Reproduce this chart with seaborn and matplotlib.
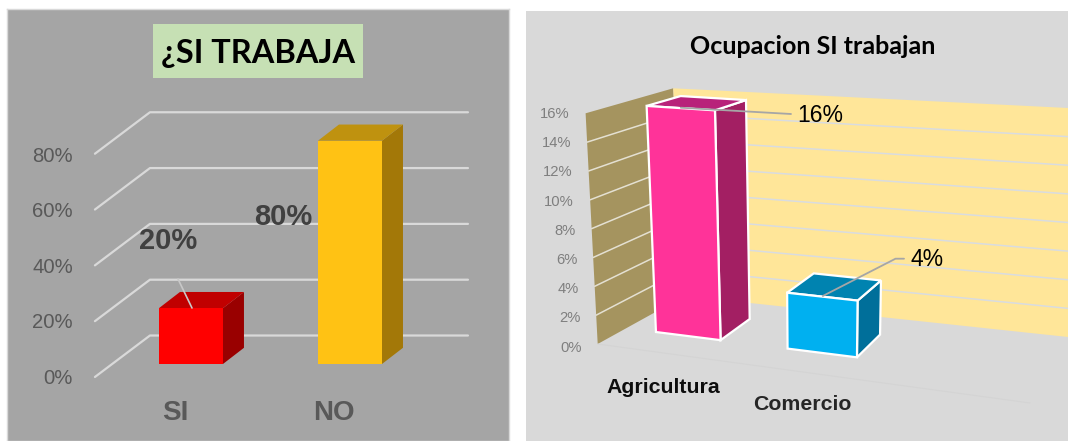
import numpy as np
import pandas as pd
import matplotlib
matplotlib.use('Agg')
import matplotlib.pyplot as plt
import seaborn as sns
from matplotlib.patches import Polygon, Rectangle
from matplotlib.transforms import Affine2D, Transform

# left chart data
work_cats = ['SI', 'NO']
work_vals = [20, 80]
work_ticks = [0, 20, 40, 60, 80]

# right chart data
job_cats = ['Agricultura', 'Comercio']
job_vals = [16, 4]
job_ticks = [0, 2, 4, 6, 8, 10, 12, 14, 16]

W, H = 1068, 441

sns.set_theme(style='white')
plt.rcParams['font.family'] = ['Liberation Sans', 'DejaVu Sans']

fig = plt.figure(figsize=(W / 100, H / 100), dpi=100, facecolor='white')
# pixel coordinates of the picture, y going down
px = Affine2D().scale(1, -1).translate(0, H)


def panel(left, top, right, bottom, color):
    ax = fig.add_axes([left / W, 1 - bottom / H, (right - left) / W, (bottom - top) / H])
    ax.set_facecolor(color)
    return ax


def clean(ax):
    ax.set(xticks=[], yticks=[], xlabel='', ylabel='')


# ---------- left chart ----------
ax1 = panel(7, 9, 509, 441, '#a5a5a5')
df1 = pd.DataFrame({'cat': work_cats, 'val': work_vals})
sns.barplot(data=df1, x='cat', y='val', hue='cat', palette=['#ff0000', '#ffc214'],
            width=0.4025, legend=False, saturation=1, ax=ax1)
ax1.set_xlim(-1.157, 2.0)
ax1.set_ylim(-27.6, 127.2)
clean(ax1)
for s in ax1.spines.values():
    s.set_color('#d9d9d9')
    s.set_linewidth(1)

# faux 3D floor/wall lines
for v in work_ticks:
    ax1.plot([-0.604, -0.258, 1.742], [v - 4.66, v + 10.2, v + 10.2],
             color='#d9d9d9', lw=1.6, zorder=1)
    ax1.text(73, 378.5 - v * 2.78, f'{v}%', transform=px, ha='right', va='center',
             fontsize=14.6, color='#595959')

# side and top faces from the bars
dx, dy = 0.132, 5.8
tops = ['#c00000', '#bf920f']
sides = ['#990000', '#a37808']
for bar, top_c, side_c in zip(ax1.patches, tops, sides):
    x0, x1, h = bar.get_x(), bar.get_x() + bar.get_width(), bar.get_height()
    bar.set_zorder(3)
    bar.set_edgecolor('none')
    ax1.add_patch(Polygon([(x1, 0), (x1 + dx, dy), (x1 + dx, h + dy), (x1, h)],
                          facecolor=side_c, edgecolor='none', zorder=2.5))
    ax1.add_patch(Polygon([(x0, h), (x0 + dx, h + dy), (x1 + dx, h + dy), (x1, h)],
                          facecolor=top_c, edgecolor='none', zorder=2.5))

ax1.plot([178, 192], [279, 308], transform=px, color='#c8c8c8', lw=1.2, zorder=4)
ax1.text(168, 241, f'{work_vals[0]}%', transform=px, ha='center', va='center',
         fontsize=21, fontweight='bold', color='#404040', zorder=5)
ax1.text(283, 217, f'{work_vals[1]}%', transform=px, ha='center', va='center',
         fontsize=21, fontweight='bold', color='#404040', zorder=5)
for name, x in zip(work_cats, [175, 334]):
    ax1.text(x, 413, name, transform=px, ha='center', va='center',
             fontsize=20, fontweight='bold', color='#595959')

ax1.add_patch(Rectangle((153, 24), 210, 54, transform=px, facecolor='#c6e0b4',
                        edgecolor='none', zorder=4))
ax1.text(258, 53, '¿SI TRABAJA', transform=px, ha='center', va='center', fontsize=23.4,
         fontweight='bold', color='black', family=['Lato', 'DejaVu Sans'], zorder=5)

# ---------- right chart ----------
ax2 = panel(526, 11, W, 441, '#d9d9d9')
df2 = pd.DataFrame({'cat': job_cats, 'val': job_vals})
sns.barplot(data=df2, x='cat', y='val', hue='cat', palette=['#ff3399', '#00b0f0'],
            width=0.5, legend=False, saturation=1, ax=ax2)
clean(ax2)
sns.despine(ax=ax2, left=True, bottom=True)

# camera for the perspective view: (x, value, depth) -> picture pixel
calib = [
    (-.25, 16, 0, 647.2, 106), (.25, 16, 0, 714.7, 110), (.25, 0, 0, 720.6, 340),
    (-.25, 0, 0, 655.9, 332), (.25, 16, 1, 745.6, 100), (.25, 0, 1, 749.4, 319.3),
    (-.25, 16, 1, 680.8, 96), (.75, 4, 0, 787.1, 292.7), (1.25, 4, 0, 857.4, 301),
    (1.25, 0, 0, 857.4, 356.7), (.75, 0, 0, 787.1, 349.3), (1.25, 4, 1, 880.6, 281.7),
    (1.25, 0, 1, 880.6, 333.3), (.75, 4, 1, 814.1, 273.3),
]
rows = []
for x, v, d, u, w in calib:
    p = [x, v / 16, d, 1]
    u, w = u / 1000, w / 1000
    rows.append(p + [0, 0, 0, 0] + [-u * c for c in p])
    rows.append([0, 0, 0, 0] + p + [-w * c for c in p])
cam = np.linalg.svd(np.array(rows))[2][-1].reshape(3, 4)


def project(x, v, d):
    x, v = np.asarray(x, float), np.asarray(v, float)
    pts = np.stack([x, v / 16, np.full_like(x, d), np.ones_like(x)], axis=-1)
    out = pts @ cam.T
    return out[..., :2] / out[..., 2:] * 1000


class FrontPlane(Transform):
    input_dims = 2
    output_dims = 2

    def transform_non_affine(self, values):
        xy = project(values[:, 0], values[:, 1], 0)
        return np.column_stack([xy[:, 0], H - xy[:, 1]])


# walls, corners of each edge at value 0 and at the top value
left_edge = np.array([[597.7, 344], [585.6, 113.3]])
corner_edge = np.array([[684.5, 296], [673.2, 88.3]])
right_edge = np.array([[W, 337], [W, 108]])
ax2.add_patch(Polygon([left_edge[0], corner_edge[0], corner_edge[1], left_edge[1]], transform=px,
                      facecolor='#a5945f', edgecolor='none', zorder=1))
ax2.add_patch(Polygon([corner_edge[0], right_edge[0], right_edge[1], corner_edge[1]], transform=px,
                      facecolor='#ffe699', edgecolor='none', zorder=1))
ax2.plot([597.7, 1030], [344, 403], transform=px, color='#d4d4d4', lw=0.8, zorder=1)
for v in job_ticks[1:-1]:
    t = v / job_ticks[-1]
    a = left_edge[0] + t * (left_edge[1] - left_edge[0])
    b = corner_edge[0] + t * (corner_edge[1] - corner_edge[0])
    c = right_edge[0] + t * (right_edge[1] - right_edge[0])
    ax2.plot([a[0], b[0]], [a[1], b[1]], transform=px, color='#e4e0d2', lw=1.1, zorder=1.5)
    ax2.plot([b[0], c[0]], [b[1], c[1]], transform=px, color='#d9dce0', lw=1.1, zorder=1.5)
for v in job_ticks:
    ax2.text(582 - v * 0.79, 347.5 - v * 14.6, f'{v}%', transform=px, ha='right', va='center',
             fontsize=10.6, color='#7f7f7f')

tops = ['#b8227a', '#0083b0']
sides = ['#a31f63', '#006f9a']
for bar, top_c, side_c in zip(ax2.patches, tops, sides):
    x0, x1, h = bar.get_x(), bar.get_x() + bar.get_width(), bar.get_height()
    bar.set_transform(FrontPlane())
    bar.set_clip_on(False)
    bar.set_edgecolor('white')
    bar.set_linewidth(1.6)
    bar.set_zorder(3)
    side = project([x1, x1, x1, x1], [0, 0, h, h], 0)
    side[1:3] = project([x1, x1], [0, h], 1)
    ax2.add_patch(Polygon(side, transform=px, facecolor=side_c, edgecolor='white', lw=1.6, zorder=2.5))
    top = project([x0, x0, x1, x1], [h, h, h, h], 0)
    top[1:3] = project([x0, x1], [h, h], 1)
    ax2.add_patch(Polygon(top, transform=px, facecolor=top_c, edgecolor='white', lw=1.6, zorder=2.5))

ax2.plot([680.8, 791], [107.7, 114], transform=px, color='#a6a6a6', lw=1.3, zorder=4)
ax2.plot([822.8, 895.5, 904], [296, 258.7, 258.7], transform=px, color='#a6a6a6', lw=1.3, zorder=4)
ax2.text(820, 115, f'{job_vals[0]}%', transform=px, ha='center', va='center', fontsize=16.5,
         color='black', zorder=5)
ax2.text(926.7, 260, f'{job_vals[1]}%', transform=px, ha='center', va='center', fontsize=16.5,
         color='black', zorder=5)
ax2.text(663.5, 387.5, job_cats[0], transform=px, ha='center', va='center', fontsize=15.3,
         fontweight='bold', color='#0d0d0d')
ax2.text(802, 405, job_cats[1], transform=px, ha='center', va='center', fontsize=15.3,
         fontweight='bold', color='#262626')
ax2.text(812.4, 46, 'Ocupacion SI trabajan', transform=px, ha='center', va='center', fontsize=18,
         fontweight='bold', color='black', family=['Lato', 'DejaVu Sans'])

fig.savefig('out.png', dpi=100)
